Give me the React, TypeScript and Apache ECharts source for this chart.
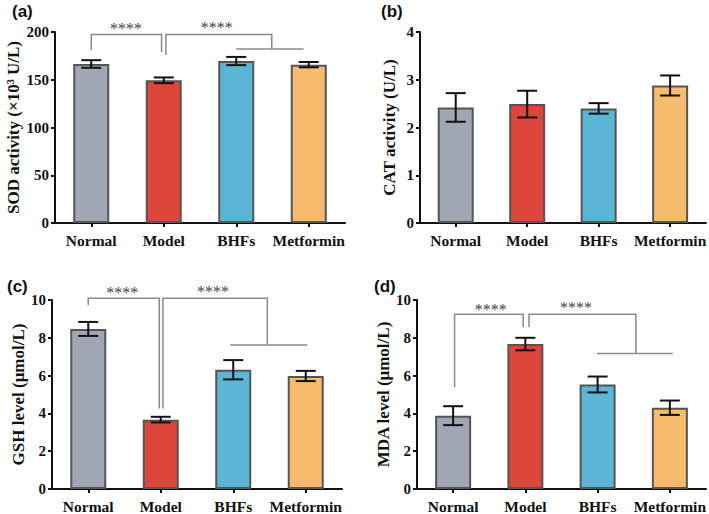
import React, { useEffect, useRef } from "react";
import * as echarts from "echarts";

const categories = ["Normal", "Model", "BHFs", "Metformin"];
const barColors = ["#a0a6b4", "#dd463a", "#5bb6d5", "#f6bb6c"];

const sodMean = [166.5, 149.4, 169.6, 165.8];
const sodErr = [4.0, 3.0, 4.3, 2.8];
const catMean = [2.42, 2.49, 2.4, 2.88];
const catErr = [0.3, 0.28, 0.11, 0.21];
const gshMean = [8.47, 3.67, 6.31, 5.98];
const gshErr = [0.37, 0.15, 0.51, 0.27];
const mdaMean = [3.88, 7.67, 5.53, 4.3];
const mdaErr = [0.5, 0.33, 0.42, 0.38];

const sodTicks = { max: 200, interval: 50 };
const catTicks = { max: 4, interval: 1 };
const gshTicks = { max: 10, interval: 2 };
const mdaTicks = { max: 10, interval: 2 };

const SERIF = "Liberation Serif";
const SANS = "Liberation Sans";

// significance annotations (x in category-index units, y in data units)
const sodBrackets = [
  [[0, 181], [0, 197.5], [0.97, 197.5], [0.97, 179]],
  [[1.03, 176], [1.03, 197.5], [2.49, 197.5], [2.49, 182.2]],
  [[2.0, 182.2], [2.93, 182.2]],
];
const sodStars = [[0.48, 204], [1.73, 204.5]];

const gshBrackets = [
  [[0, 9.74], [0, 10.09], [0.98, 10.09], [0.98, 4.26]],
  [[1.03, 4.26], [1.03, 10.09], [2.47, 10.09], [2.47, 7.62]],
  [[1.96, 7.62], [3.02, 7.62]],
];
const gshStars = [[0.47, 10.38], [1.72, 10.44]];

const mdaBrackets = [
  [[0.02, 5.39], [0.02, 9.25], [0.97, 9.25], [0.97, 8.56]],
  [[1.05, 8.56], [1.05, 9.25], [2.53, 9.25], [2.53, 7.17]],
  [[1.99, 7.17], [3.04, 7.17]],
];
const mdaStars = [[0.52, 9.49], [1.7, 9.58]];

const panels = [
  {
    grid: { left: 55, top: 32, width: 290, height: 191 },
    mean: sodMean, err: sodErr, ticks: sodTicks,
    name: "SOD activity (×10³ U/L)", nameGap: 33,
    brackets: sodBrackets, stars: sodStars,
    letter: "(a)", lx: 12, ly: 13,
  },
  {
    grid: { left: 420, top: 32, width: 288, height: 191 },
    mean: catMean, err: catErr, ticks: catTicks,
    name: "CAT activity (U/L)", nameGap: 22,
    brackets: [], stars: [],
    letter: "(b)", lx: 381, ly: 13,
  },
  {
    grid: { left: 52, top: 300, width: 290, height: 192 },
    mean: gshMean, err: gshErr, ticks: gshTicks,
    name: "GSH level (μmol/L)", nameGap: 23,
    brackets: gshBrackets, stars: gshStars,
    letter: "(c)", lx: 7, ly: 288,
  },
  {
    grid: { left: 417, top: 300, width: 289, height: 192 },
    mean: mdaMean, err: mdaErr, ticks: mdaTicks,
    name: "MDA level (μmol/L)", nameGap: 25,
    brackets: mdaBrackets, stars: mdaStars,
    letter: "(d)", lx: 374, ly: 288,
  },
];

function buildOption() {
  const grid: any[] = [];
  const xAxis: any[] = [];
  const yAxis: any[] = [];
  const series: any[] = [];
  const graphic: any[] = [];

  panels.forEach((p, i) => {
    grid.push({ ...p.grid, containLabel: false });
    xAxis.push({
      type: "category",
      gridIndex: i,
      data: categories,
      axisLine: { show: true, onZero: false, lineStyle: { color: "#111", width: 2 } },
      axisTick: { show: true, alignWithLabel: true, length: 4, lineStyle: { color: "#111", width: 2 } },
      axisLabel: {
        color: "#111",
        fontFamily: SERIF,
        fontWeight: "bold",
        fontSize: 15.5,
        margin: 9,
        interval: 0,
      },
      splitLine: { show: false },
    });
    yAxis.push({
      type: "value",
      gridIndex: i,
      min: 0,
      max: p.ticks.max,
      interval: p.ticks.interval,
      axisLine: { show: true, onZero: false, lineStyle: { color: "#111", width: 2 } },
      axisTick: { show: true, length: 4, lineStyle: { color: "#111", width: 2 } },
      axisLabel: {
        color: "#111",
        fontFamily: SERIF,
        fontWeight: "bold",
        fontSize: 15,
        margin: 6,
      },
      splitLine: { show: false },
      name: p.name,
      nameLocation: "middle",
      nameRotate: 90,
      nameGap: p.nameGap,
      nameTextStyle: {
        color: "#111",
        fontFamily: SERIF,
        fontWeight: "bold",
        fontSize: 17,
      },
    });
    graphic.push({
      type: "text",
      left: p.lx,
      top: p.ly - 10,
      style: {
        text: p.letter,
        font: `bold 17px ${SANS}`,
        fill: "#111",
      },
    });
  });

  // hidden value x axes for annotations
  panels.forEach((p, i) => {
    xAxis.push({
      type: "value",
      gridIndex: i,
      min: -0.5,
      max: 3.5,
      show: false,
      axisLine: { onZero: false },
    });
  });

  panels.forEach((p, i) => {
    series.push({
      type: "bar",
      xAxisIndex: i,
      yAxisIndex: i,
      barWidth: 36,
      data: p.mean.map((v, j) => ({
        value: v,
        itemStyle: { color: barColors[j], borderColor: "#555", borderWidth: 2 },
      })),
      silent: true,
    });
    series.push({
      type: "custom",
      xAxisIndex: i,
      yAxisIndex: i,
      silent: true,
      z: 5,
      data: p.mean.map((m, j) => [j, m, p.err[j]]),
      encode: { x: 0, y: 1 },
      renderItem: (params: any, api: any) => {
        const j = api.value(0);
        const m = api.value(1);
        const e = api.value(2);
        const top = api.coord([j, m + e]);
        const bot = api.coord([j, m - e]);
        const hw = 10;
        const st = { stroke: "#111", lineWidth: 2 };
        return {
          type: "group",
          children: [
            { type: "line", shape: { x1: top[0], y1: top[1], x2: bot[0], y2: bot[1] }, style: st },
            { type: "line", shape: { x1: top[0] - hw, y1: top[1], x2: top[0] + hw, y2: top[1] }, style: st },
            { type: "line", shape: { x1: bot[0] - hw, y1: bot[1], x2: bot[0] + hw, y2: bot[1] }, style: st },
          ],
        };
      },
    });
    if (p.brackets.length) {
      const br = p.brackets;
      series.push({
        type: "custom",
        xAxisIndex: 4 + i,
        yAxisIndex: i,
        silent: true,
        z: 6,
        data: br.map((b: number[][]) => b[0]),
        encode: { x: 0, y: 1 },
        renderItem: (params: any, api: any) => {
          const pts = br[params.dataIndex].map((pt: number[]) => api.coord(pt));
          return {
            type: "polyline",
            shape: { points: pts },
            style: { stroke: "#8a8a8a", lineWidth: 1.5, fill: null },
          };
        },
      });
      const stars = p.stars;
      series.push({
        type: "custom",
        xAxisIndex: 4 + i,
        yAxisIndex: i,
        silent: true,
        z: 6,
        data: stars,
        encode: { x: 0, y: 1 },
        renderItem: (params: any, api: any) => {
          const c = api.coord([api.value(0), api.value(1)]);
          return {
            type: "text",
            x: c[0],
            y: c[1],
            style: {
              text: "****",
              font: `16px ${SERIF}`,
              fill: "#454545",
              align: "center",
              verticalAlign: "middle",
              textAlign: "center",
              textVerticalAlign: "middle",
            },
          };
        },
      });
    }
  });

  return {
    animation: false,
    backgroundColor: "#ffffff",
    grid,
    xAxis,
    yAxis,
    series,
    graphic,
  };
}

export default function App() {
  const ref = useRef<HTMLDivElement>(null);
  useEffect(() => {
    if (!ref.current) return;
    const chart = echarts.init(ref.current, undefined, { renderer: "svg" });
    chart.setOption(buildOption() as any);
    return () => chart.dispose();
  }, []);
  return (
    <div
      ref={ref}
      style={{ position: "absolute", left: 0, top: 0, width: 709, height: 514, background: "#fff" }}
    />
  );
}
